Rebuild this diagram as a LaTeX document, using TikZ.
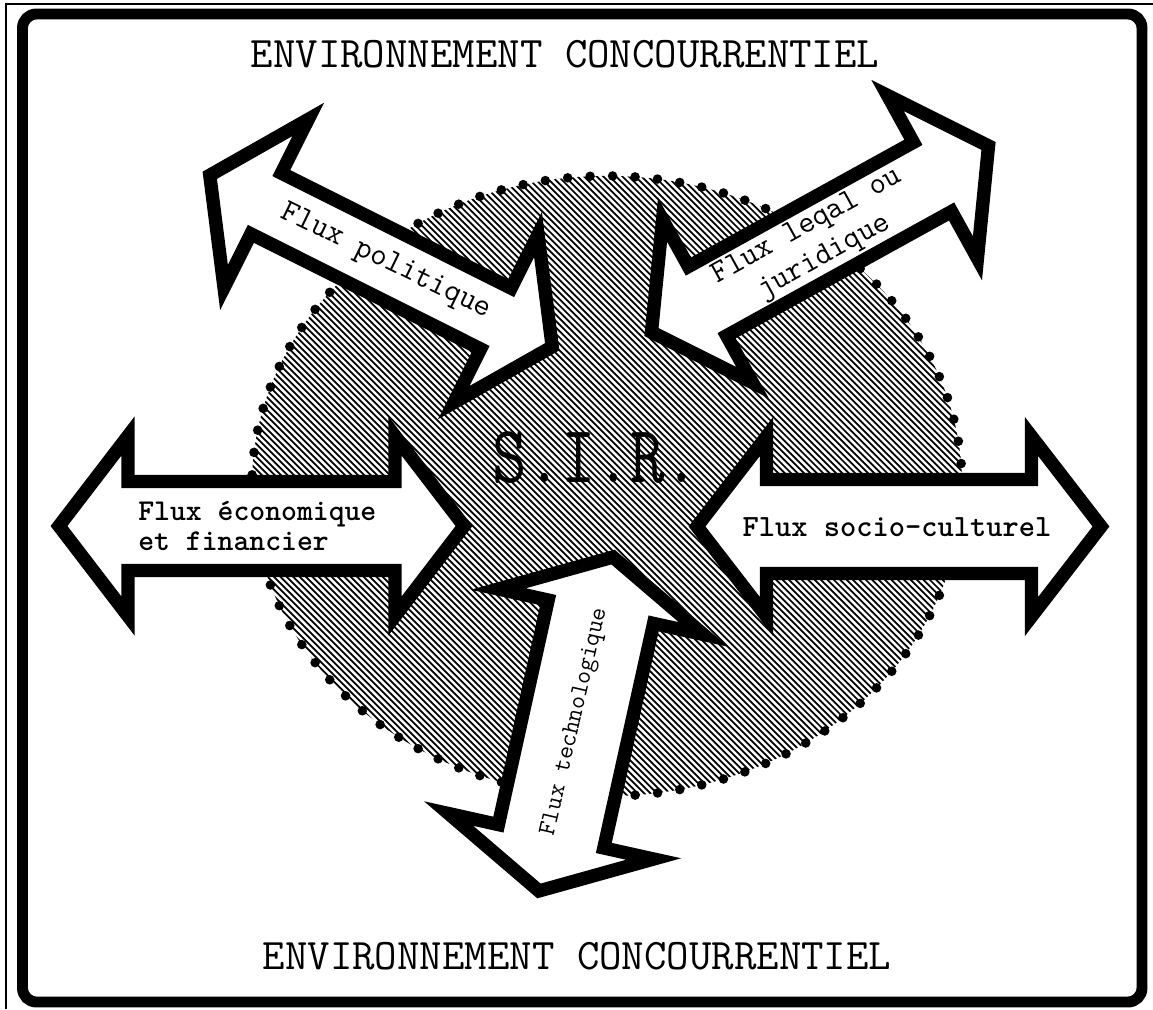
\documentclass[tikz,border=0pt]{standalone}
\usepackage{fontspec}
\tikzset{
  arrowbox/.style={draw=black, fill=white, line width=9.5pt, line join=miter, miter limit=20},
  pics/dblarrow/.style args={#1/#2/#3/#4}{code={
    \draw[arrowbox] (-#1,0) -- ({-#1+#2},-#3) -- ({-#1+#2},-#4) -- ({#1-#2},-#4) -- ({#1-#2},-#3)
      -- (#1,0) -- ({#1-#2},#3) -- ({#1-#2},#4) -- ({-#1+#2},#4) -- ({-#1+#2},#3) -- cycle;}},
  title/.style={font=\ttfamily\fontsize{31pt}{34pt}\selectfont, inner sep=0pt},
  lbl/.style={inner sep=0pt, align=center},
  lblb/.style={font=\ttfamily\bfseries\fontsize{21.5pt}{21pt}\selectfont, inner sep=0pt},
  dotborder/.style={line width=6.8pt, line cap=round, dash pattern=on 0pt off 16pt},
  hatch/.style={line width=1.25pt}
}
\begin{document}
\begin{tikzpicture}[x=0.025cm,y=-0.025cm]
\useasboundingbox (0,0) rectangle (1153,1009);
% frames
\draw[line width=0.8pt] (6,1009) -- (6,4) -- (1153,4);
\draw[line width=7.8pt, rounded corners=0.35cm] (22.5,14) rectangle (1142,1002);
% central hatched ellipse
\begin{scope}
  \clip (607,486) ellipse [x radius=8.875cm, y radius=7.75cm];
  \foreach \k in {0,...,210} \draw[hatch] ({-460+6.4*\k},86) -- ++(800,800);
\end{scope}
\draw[dotborder] (607,486) ellipse [x radius=8.875cm, y radius=7.75cm];
% arrows
\pic[rotate=0] at (261.5,526) {dblarrow={202.5/69/90/44.5}};
\pic[rotate=0] at (899,526.5) {dblarrow={202/69.5/90/47}};
\pic[rotate=-26.6] at (381,261) {dblarrow={191.5/63/94/34}};
\pic[rotate=28.9] at (820,239) {dblarrow={192.5/64/93/39.5}};
\pic[rotate=77.5] at (576,724) {dblarrow={171/56/105/54}};
% texts
\node[title] (ttop) at (565,54) {ENVIRONNEMENT CONCOURRENTIEL};
\node[title] (tbot) at (577,956) {ENVIRONNEMENT CONCOURRENTIEL};
\node[font=\ttfamily\fontsize{58pt}{58pt}\selectfont, inner sep=0pt, xscale=0.82] (sir) at (596,458) {S.I.R.};
\node[lblb, align=left, anchor=west] (eco) at (138,526) {Flux économique\\et financier};
\node[lblb, font=\ttfamily\bfseries\fontsize{22pt}{22pt}\selectfont] (soc) at (897,527) {Flux socio-culturel};
\node[lbl, rotate=-26, font=\ttfamily\fontsize{22.7pt}{24pt}\selectfont] (pol) at (386,262) {Flux politique};
\node[lbl, rotate=29, font=\ttfamily\fontsize{22.5pt}{25pt}\selectfont] (leg) at (816,242) {Flux leqal ou\\juridique};
\node[lbl, rotate=77, font=\ttfamily\fontsize{17.9pt}{18pt}\selectfont] (tech) at (575,722) {Flux technologique};
\end{tikzpicture}
\end{document}
